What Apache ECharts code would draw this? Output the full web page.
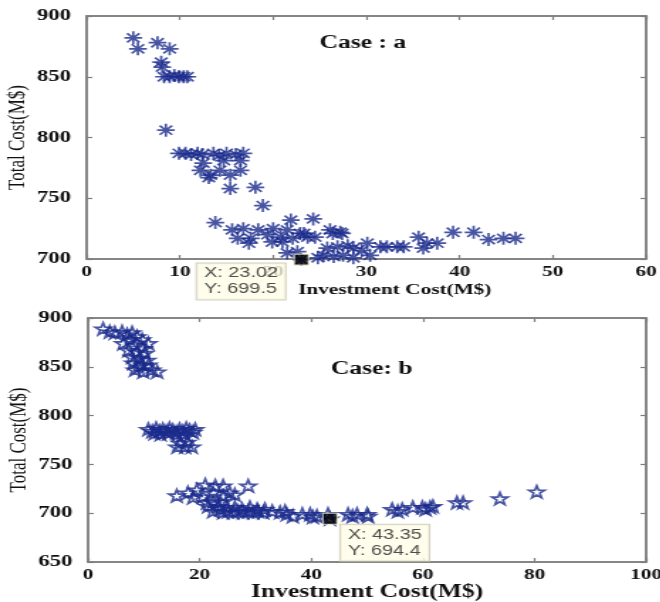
<!DOCTYPE html>
<html>
<head>
<meta charset="utf-8">
<script src="https://cdn.jsdelivr.net/npm/echarts@6/dist/echarts.min.js"></script>
<style>
  html, body { margin: 0; padding: 0; background: #fff; overflow: hidden; }
  /* the source figure is stretched sideways, so draw narrow and stretch it the same way */
  #main { width: 465px; height: 602px; transform: scaleX(1.42); transform-origin: 0 0; }
</style>
</head>
<body>
<div id="main"></div>
<script>
// Case a: [investment cost, total cost]
const caseA = [
  [5.0, 882], [5.5, 873], [7.6, 878], [8.9, 873], [8.0, 862], [8.1, 858],
  [8.3, 850], [8.9, 850], [9.4, 851], [9.9, 850], [10.4, 850], [10.8, 850],
  [8.5, 806],
  [9.9, 787], [10.6, 787], [11.2, 786], [11.9, 787], [12.4, 786], [13.6, 787], [14.2, 785],
  [15.0, 787], [16.0, 786], [16.8, 787],
  [14.7, 781], [16.5, 781], [12.5, 779], [12.2, 773], [14.3, 773], [16.5, 773],
  [13.3, 769], [15.4, 769], [13.1, 767], [15.4, 758], [18.1, 759], [18.9, 744],
  [13.8, 730], [21.9, 732], [24.3, 733], [15.6, 724], [16.8, 725], [17.6, 717],
  [18.4, 724], [19.4, 720], [20.0, 725], [20.8, 718], [21.5, 724], [22.1, 717],
  [22.9, 721], [23.7, 718], [24.5, 718], [26.1, 724], [27.2, 722], [16.2, 717],
  [17.4, 713], [21.5, 705], [21.0, 714], [19.9, 714], [22.6, 706], [25.8, 709],
  [26.9, 710], [28.0, 711], [28.6, 709], [24.8, 701], [25.4, 703], [26.5, 702],
  [27.5, 703], [28.6, 701],
  [23.3, 721], [26.4, 721], [27.4, 721], [30.1, 713], [31.5, 710], [32.2, 710],
  [33.3, 710], [34.0, 710], [29.5, 707], [30.4, 703], [35.6, 718], [36.5, 713],
  [37.6, 713], [36.1, 709], [39.3, 722], [41.5, 722], [43.1, 716], [44.7, 717],
  [46.0, 717], [23.02, 699.5]
];

// Case b
const caseB = [
  [2.7, 889], [3.9, 886], [4.8, 885], [6.1, 886], [7.0, 883], [7.9, 885], [8.8, 881],
  [9.7, 878], [10.8, 874], [6.3, 874], [7.5, 878], [8.4, 872], [9.9, 869], [7.2, 867],
  [8.8, 865], [10.2, 864], [7.9, 860], [9.3, 859], [10.6, 857], [8.1, 854], [9.7, 852],
  [10.8, 852], [8.4, 847], [9.9, 845], [11.5, 847], [12.4, 845], [9.0, 850],
  [10.8, 786], [11.5, 784], [12.2, 787], [12.8, 784], [13.4, 786], [14.0, 784],
  [14.6, 787], [15.2, 785], [15.8, 783], [16.4, 786], [17.0, 784], [17.6, 787],
  [18.2, 785], [18.8, 783], [19.2, 786], [11.9, 782], [13.0, 781], [14.4, 782],
  [16.0, 781], [17.3, 781],
  [16.0, 768], [17.4, 768], [18.6, 768], [16.5, 772], [17.8, 773],
  [15.9, 718], [17.9, 721], [19.5, 724], [21.0, 729], [22.8, 728], [24.2, 728],
  [26.3, 719], [28.7, 728], [18.8, 716], [20.6, 717], [22.4, 721], [24.2, 717],
  [25.4, 721], [21.3, 711], [22.4, 712], [23.7, 712], [21.5, 707], [22.4, 702],
  [23.7, 704], [24.9, 706], [26.3, 706], [27.6, 704], [29.0, 706], [30.3, 704],
  [31.7, 704], [33.0, 702], [34.4, 701], [35.6, 699], [36.7, 697], [38.4, 699],
  [39.8, 699], [41.0, 697], [24.2, 701], [26.0, 701], [27.8, 701], [29.6, 701],
  [31.4, 701], [23.3, 707], [25.1, 702], [26.9, 702], [28.7, 702], [30.5, 702],
  [35.3, 702],
  [40.3, 696], [43.0, 699], [46.6, 699], [48.2, 699], [50.0, 699], [47.4, 697],
  [50.2, 697], [54.5, 704], [56.3, 704], [55.5, 702], [58.2, 706], [59.9, 706],
  [61.3, 706], [61.8, 707], [60.5, 704], [66.1, 711], [67.2, 711], [73.8, 715],
  [80.4, 722], [43.35, 694.4]
];

// data tips
const tipA = [23.02, 699.5];
const tipB = [43.35, 694.4];

// axis ticks
const xTicksA = [0, 10, 20, 30, 40, 50, 60];
const yTicksA = [700, 750, 800, 850, 900];
const xTicksB = [0, 20, 40, 60, 80, 100];
const yTicksB = [650, 700, 750, 800, 850, 900];

const navy = '#1a2a8c';
const axisGray = '#7f7f7f';
const serif = 'Liberation Serif';

const asterisk = 'path://M0 5L10 5M5 0L5 10M1.5 1.5L8.5 8.5M1.5 8.5L8.5 1.5';
const star = 'path://M5 0L6.18 3.4L9.76 3.45L6.9 5.6L7.94 9.05L5 7L2.06 9.05L3.1 5.6L0.24 3.45L3.82 3.4Z';

function xAxisPair(grid, ticks, nameStyle) {
  const base = {
    gridIndex: grid,
    type: 'value',
    min: ticks[0],
    max: ticks[ticks.length - 1],
    interval: ticks[1] - ticks[0],
    axisLine: { show: true, onZero: false, lineStyle: { color: axisGray, width: 1.5 } },
    axisTick: { show: true, inside: true, length: 4, lineStyle: { color: axisGray, width: 1.2 } },
    splitLine: { show: false }
  };
  return [
    Object.assign({}, base, {
      position: 'bottom',
      axisLabel: { color: '#111', fontFamily: serif, fontWeight: 'bold', fontSize: 15, margin: 6 },
      name: 'Investment Cost(M$)',
      nameLocation: 'middle',
      nameGap: nameStyle.gap,
      nameMoveOverlap: false,
      nameTextStyle: { color: '#111', fontFamily: serif, fontWeight: 'bold', fontSize: nameStyle.size, padding: nameStyle.padding }
    }),
    Object.assign({}, base, { position: 'top', axisLabel: { show: false } })
  ];
}

function yAxisPair(grid, ticks) {
  const base = {
    gridIndex: grid,
    type: 'value',
    min: ticks[0],
    max: ticks[ticks.length - 1],
    interval: ticks[1] - ticks[0],
    axisLine: { show: true, onZero: false, lineStyle: { color: axisGray, width: 1.5 } },
    axisTick: { show: true, inside: true, length: 4, lineStyle: { color: axisGray, width: 1.2 } },
    splitLine: { show: false }
  };
  return [
    Object.assign({}, base, {
      position: 'left',
      axisLabel: { color: '#111', fontFamily: serif, fontWeight: 'bold', fontSize: 16, margin: 11 },
      name: 'Total Cost(M$)',
      nameLocation: 'middle',
      nameGap: 40,
      nameMoveOverlap: false,
      nameTextStyle: { color: '#111', fontFamily: serif, fontSize: 17 }
    }),
    Object.assign({}, base, { position: 'right', axisLabel: { show: false } })
  ];
}

function tipSeries(xi, yi, point, labelPos) {
  return {
    type: 'scatter',
    xAxisIndex: xi,
    yAxisIndex: yi,
    data: [point],
    clip: false,
    z: 5,
    symbol: 'rect',
    symbolSize: [10, 11],
    itemStyle: { color: '#000', borderColor: '#f3efc8', borderWidth: 1 },
    label: {
      show: true,
      position: labelPos,
      formatter: 'X: ' + point[0] + '\nY: ' + point[1],
      fontFamily: 'Liberation Sans',
      fontSize: 14,
      lineHeight: 16,
      color: '#222',
      backgroundColor: '#fffde6',
      borderColor: '#c8c6b0',
      borderWidth: 1,
      padding: [2, 5, 2, 5]
    }
  };
}

const chart = echarts.init(document.getElementById('main'));
chart.setOption({
  animation: false,
  backgroundColor: '#fff',
  title: [
    { text: 'Case : a', left: 225, top: 34, padding: 0,
      textStyle: { fontFamily: serif, fontWeight: 'bold', fontSize: 18, color: '#111' } },
    { text: 'Case: b', left: 233, top: 360, padding: 0,
      textStyle: { fontFamily: serif, fontWeight: 'bold', fontSize: 18, color: '#111' } }
  ],
  grid: [
    { left: 61, right: 10, top: 16, height: 243, show: true, borderColor: axisGray, borderWidth: 1.5,
      containLabel: false, outerBoundsMode: 'none' },
    { left: 62, right: 10, top: 318, height: 244, show: true, borderColor: axisGray, borderWidth: 1.5,
      containLabel: false, outerBoundsMode: 'none' }
  ],
  xAxis: [
    ...xAxisPair(0, xTicksA, { gap: 24, size: 15, padding: [0, 0, 0, 40] }),
    ...xAxisPair(1, xTicksB, { gap: 21, size: 18, padding: 0 })
  ],
  yAxis: [
    ...yAxisPair(0, yTicksA),
    ...yAxisPair(1, yTicksB)
  ],
  series: [
    {
      type: 'scatter',
      xAxisIndex: 0,
      yAxisIndex: 0,
      data: caseA,
      clip: false,
      symbol: asterisk,
      symbolSize: [12.5, 13],
      itemStyle: { color: 'rgba(0,0,0,0)', borderColor: navy, borderWidth: 1.7 }
    },
    {
      type: 'scatter',
      xAxisIndex: 2,
      yAxisIndex: 2,
      data: caseB,
      clip: false,
      symbol: star,
      symbolSize: [11, 12],
      itemStyle: { color: 'rgba(0,0,0,0)', borderColor: navy, borderWidth: 1.7 }
    },
    tipSeries(0, 0, tipA, [-68, 10]),
    tipSeries(2, 2, tipB, [13, 12])
  ]
});
</script>
</body>
</html>
